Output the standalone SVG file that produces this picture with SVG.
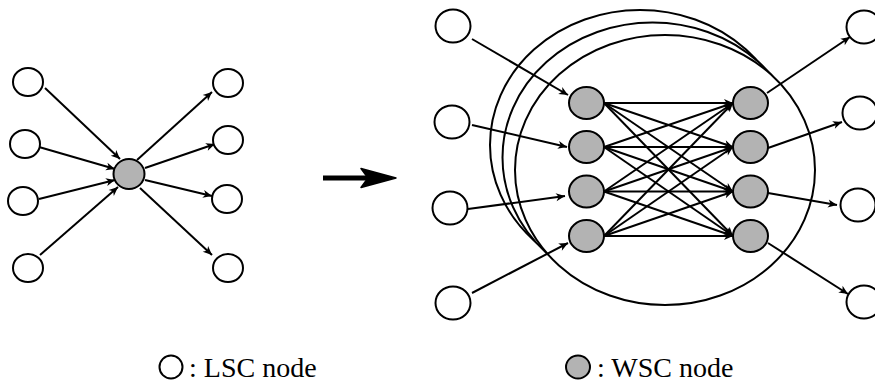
<svg xmlns="http://www.w3.org/2000/svg" width="875" height="391" viewBox="0 0 875 391">
  <style>
    .lsc { fill: #ffffff; stroke: #000000; stroke-width: 2; }
    .wsc { fill: #b3b3b3; stroke: #000000; stroke-width: 2; }
    .shell { fill: #ffffff; stroke: #000000; stroke-width: 2; }
    .edge { fill: none; stroke: #000000; stroke-width: 2; marker-end: url(#tip); }
    .label { font-family: 'Liberation Serif', 'DejaVu Serif', serif; font-size: 28px; fill: #000000; }
  </style>
  <defs>
    <marker id="tip" markerUnits="userSpaceOnUse" viewBox="-10 -5 11 10" refX="0" refY="0" markerWidth="11" markerHeight="10" orient="auto">
      <path d="M0,0 L-9,-4 L-6.5,0 L-9,4 Z" fill="#000000"/>
    </marker>
  </defs>

  <!-- Stacked cluster shells (back to front) -->
  <g id="cluster">
    <ellipse class="shell" cx="640" cy="145" rx="150" ry="135"/>
    <ellipse class="shell" cx="652.5" cy="157.5" rx="150" ry="135"/>
    <ellipse class="shell" cx="665" cy="170" rx="150" ry="135"/>
  </g>

  <!-- Connectors -->
  <g id="connectors">
    <!-- single hub: inputs -->
    <line class="edge" x1="45" y1="88" x2="120" y2="159"/>
    <line class="edge" x1="39" y1="147" x2="115" y2="169"/>
    <line class="edge" x1="39" y1="199" x2="115" y2="180"/>
    <line class="edge" x1="40" y1="255" x2="118" y2="187"/>
    <!-- single hub: outputs -->
    <line class="edge" x1="137" y1="160" x2="212" y2="92"/>
    <line class="edge" x1="145" y1="168" x2="215" y2="144"/>
    <line class="edge" x1="145" y1="180" x2="212" y2="196"/>
    <line class="edge" x1="140" y1="188" x2="212" y2="255"/>

    <!-- cluster: inputs -->
    <line class="edge" x1="472" y1="39" x2="568" y2="95"/>
    <line class="edge" x1="472" y1="125" x2="567" y2="147"/>
    <line class="edge" x1="468" y1="209" x2="565" y2="196"/>
    <line class="edge" x1="472" y1="293" x2="568" y2="243"/>
    <!-- cluster: outputs -->
    <line class="edge" x1="767" y1="93" x2="850" y2="37"/>
    <line class="edge" x1="768" y1="148" x2="842" y2="122"/>
    <line class="edge" x1="768" y1="193" x2="837" y2="205"/>
    <line class="edge" x1="768" y1="243" x2="848" y2="294"/>

    <!-- cluster: full mesh between the two WSC columns -->
    <line class="edge" x1="604" y1="103" x2="733" y2="103"/>
    <line class="edge" x1="604" y1="103" x2="733" y2="147"/>
    <line class="edge" x1="604" y1="103" x2="733" y2="191.5"/>
    <line class="edge" x1="604" y1="103" x2="733" y2="236"/>
    <line class="edge" x1="604" y1="147" x2="733" y2="103"/>
    <line class="edge" x1="604" y1="147" x2="733" y2="147"/>
    <line class="edge" x1="604" y1="147" x2="733" y2="191.5"/>
    <line class="edge" x1="604" y1="147" x2="733" y2="236"/>
    <line class="edge" x1="604" y1="191.5" x2="733" y2="103"/>
    <line class="edge" x1="604" y1="191.5" x2="733" y2="147"/>
    <line class="edge" x1="604" y1="191.5" x2="733" y2="191.5"/>
    <line class="edge" x1="604" y1="191.5" x2="733" y2="236"/>
    <line class="edge" x1="604" y1="236" x2="733" y2="103"/>
    <line class="edge" x1="604" y1="236" x2="733" y2="147"/>
    <line class="edge" x1="604" y1="236" x2="733" y2="191.5"/>
    <line class="edge" x1="604" y1="236" x2="733" y2="236"/>

    <!-- transformation arrow -->
    <g id="transform-arrow">
      <line x1="323" y1="178" x2="368" y2="178" stroke="#000000" stroke-width="5"/>
      <path d="M396,178 L361,168.5 L368,178 L361,187.5 Z" fill="#000000" stroke="#000000" stroke-width="1.5" stroke-linejoin="round"/>
    </g>
  </g>

  <!-- Single-hub view -->
  <g id="hub-in-1"><ellipse class="lsc" cx="28" cy="82" rx="15" ry="14"/></g>
  <g id="hub-in-2"><ellipse class="lsc" cx="25" cy="144" rx="15" ry="14"/></g>
  <g id="hub-in-3"><ellipse class="lsc" cx="23" cy="201" rx="15" ry="14"/></g>
  <g id="hub-in-4"><ellipse class="lsc" cx="28" cy="268" rx="15" ry="14"/></g>
  <g id="hub"><ellipse class="wsc" cx="129" cy="174" rx="15.5" ry="15"/></g>
  <g id="hub-out-1"><ellipse class="lsc" cx="228" cy="83" rx="15" ry="14"/></g>
  <g id="hub-out-2"><ellipse class="lsc" cx="228" cy="140" rx="15" ry="14"/></g>
  <g id="hub-out-3"><ellipse class="lsc" cx="227" cy="199" rx="15" ry="14"/></g>
  <g id="hub-out-4"><ellipse class="lsc" cx="228" cy="268" rx="15" ry="14"/></g>

  <!-- Cluster view -->
  <g id="in-1"><ellipse class="lsc" cx="453" cy="26" rx="17.5" ry="16.5"/></g>
  <g id="in-2"><ellipse class="lsc" cx="452" cy="122" rx="17.5" ry="16.5"/></g>
  <g id="in-3"><ellipse class="lsc" cx="450" cy="208" rx="17.5" ry="16.5"/></g>
  <g id="in-4"><ellipse class="lsc" cx="453" cy="303" rx="17.5" ry="16.5"/></g>

  <g id="wsc-a1"><ellipse class="wsc" cx="586.5" cy="103" rx="17.5" ry="16"/></g>
  <g id="wsc-a2"><ellipse class="wsc" cx="586.5" cy="147" rx="17.5" ry="16"/></g>
  <g id="wsc-a3"><ellipse class="wsc" cx="586.5" cy="191.5" rx="17.5" ry="16"/></g>
  <g id="wsc-a4"><ellipse class="wsc" cx="586.5" cy="236" rx="17.5" ry="16"/></g>
  <g id="wsc-b1"><ellipse class="wsc" cx="750.5" cy="103" rx="17.5" ry="16"/></g>
  <g id="wsc-b2"><ellipse class="wsc" cx="750.5" cy="147" rx="17.5" ry="16"/></g>
  <g id="wsc-b3"><ellipse class="wsc" cx="750.5" cy="191.5" rx="17.5" ry="16"/></g>
  <g id="wsc-b4"><ellipse class="wsc" cx="750.5" cy="236" rx="17.5" ry="16"/></g>

  <g id="out-1"><ellipse class="lsc" cx="864" cy="27" rx="17.5" ry="16.5"/></g>
  <g id="out-2"><ellipse class="lsc" cx="860" cy="113" rx="17.5" ry="16.5"/></g>
  <g id="out-3"><ellipse class="lsc" cx="858" cy="205" rx="17.5" ry="16.5"/></g>
  <g id="out-4"><ellipse class="lsc" cx="864" cy="302" rx="17.5" ry="16.5"/></g>

  <!-- Legend -->
  <g id="legend-lsc">
    <ellipse class="lsc" cx="171" cy="367" rx="11.5" ry="11.5"/>
    <text class="label" x="189" y="377" font-family="Liberation Serif, serif">: LSC node</text>
  </g>
  <g id="legend-wsc">
    <ellipse class="wsc" cx="578" cy="367" rx="12" ry="11.5"/>
    <text class="label" x="597" y="377" font-family="Liberation Serif, serif">: WSC node</text>
  </g>
</svg>
